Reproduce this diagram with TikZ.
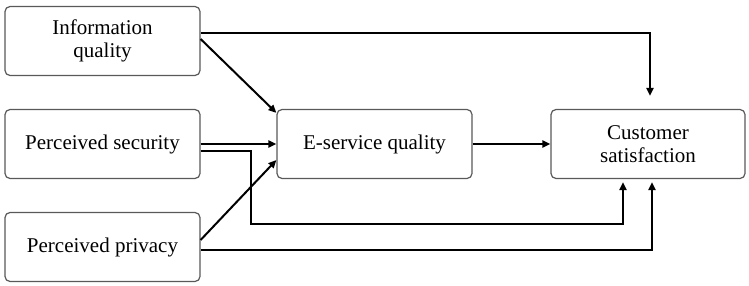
\documentclass[tikz,border=0pt]{standalone}
\usepackage{fontspec}
\setmainfont{Liberation Serif}
\usetikzlibrary{arrows.meta}

\begin{document}
\begin{tikzpicture}[x=1pt, y=-1pt, >={Triangle[length=8pt,width=7pt]}]
\tikzset{
  box/.style={draw=black!65, line width=1.2pt, rounded corners=5pt, fill=white,
    minimum width=195pt, minimum height=69pt, align=center,
    font=\fontsize{21}{23.5}\selectfont, inner sep=0pt},
  conn/.style={line width=2pt}
}
\useasboundingbox (0,0) rectangle (749,286);
% boxes
\node[box] (iq) at (102.5,41) {Information\\quality};
\node[box] (ps) at (102.5,144) {Perceived security};
\node[box] (pp) at (102.5,247) {Perceived privacy};
\node[box] (es) at (374.5,144) {E-service quality};
\node[box, minimum width=194pt] (cs) at (648,144) {Customer\\satisfaction};
% bends of the long connectors
\coordinate (sdown) at (251,224);
% connectors
\draw[conn,->,shorten >=13pt] ([yshift=8pt]iq.east) -| ([xshift=2pt]cs.north);
\draw[conn,->] ([yshift=2pt]iq.east) -- ([yshift=-4pt]es.north west);
\draw[conn,->] (ps.east) -- (es.west);
\draw[conn,->,shorten >=3pt] ([yshift=-7pt]ps.east) -| (sdown) -| ([xshift=-25pt]cs.south);
\draw[conn,->] ([yshift=7pt]pp.east) -- ([yshift=-16pt]es.west);
\draw[conn,->,shorten >=3pt] ([yshift=-3pt]pp.east) -| ([xshift=4pt]cs.south);
\draw[conn,->] (es.east) -- (cs.west);
\end{tikzpicture}
\end{document}
